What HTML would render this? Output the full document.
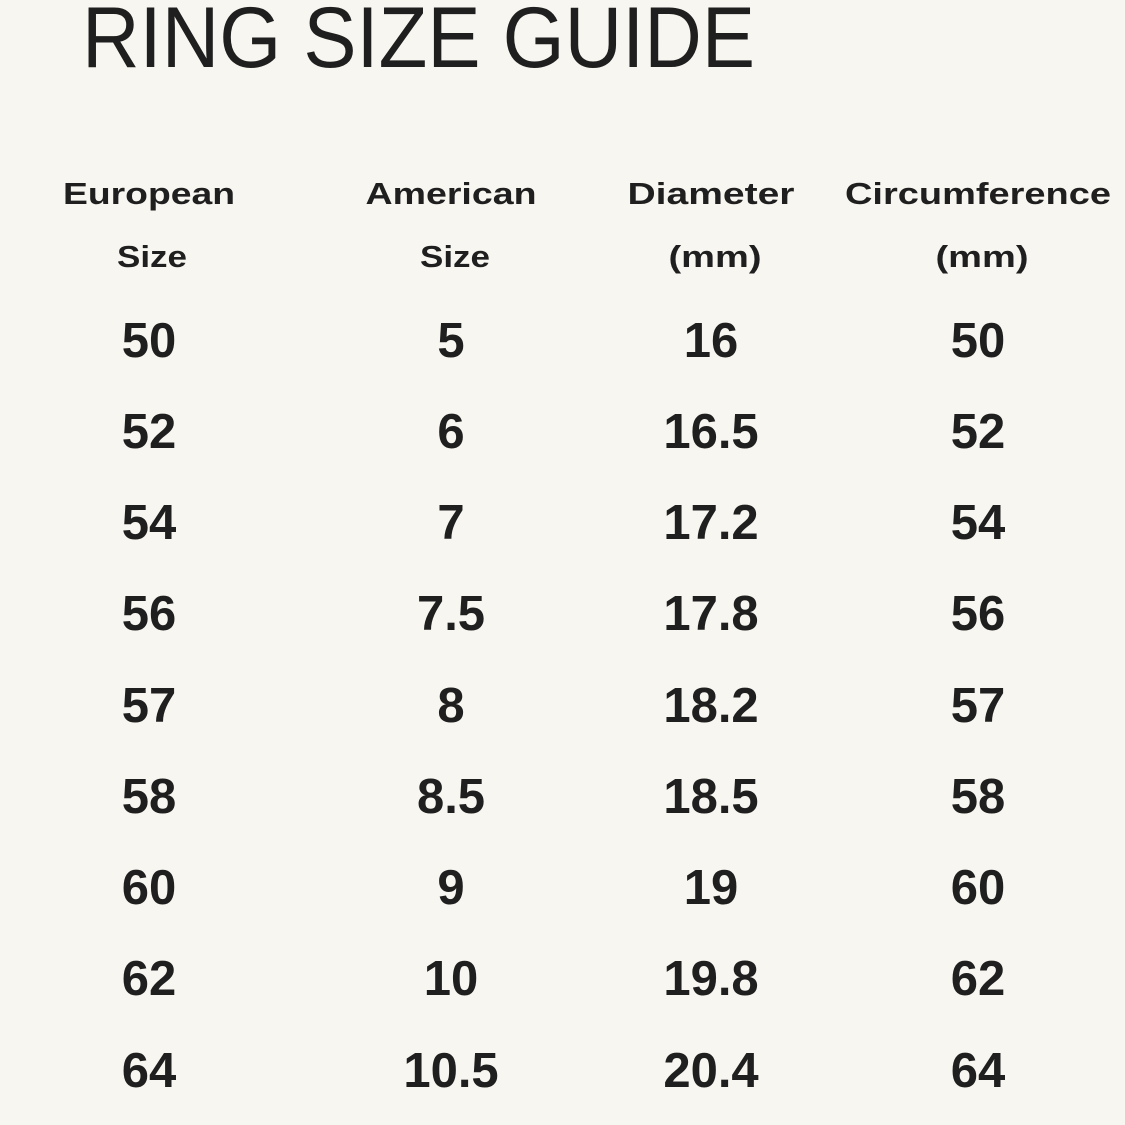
<!DOCTYPE html>
<html><head><meta charset="utf-8"><style>
html,body{margin:0;padding:0;background:#f8f6f0;}
svg{display:block}
text{font-family:"Liberation Sans",sans-serif;fill:#1f1f1f}
.h{font-weight:bold;font-size:31px}
.n{font-weight:bold;font-size:49px}
</style></head><body>
<svg width="1125" height="1125" viewBox="0 0 1125 1125">
<rect width="1125" height="1125" fill="#f8f6f0"/>
<text x="82" y="67" font-size="86" textLength="673" lengthAdjust="spacingAndGlyphs">RING SIZE GUIDE</text>
<g class="h" text-anchor="middle">
<text x="149" y="204" textLength="172" lengthAdjust="spacingAndGlyphs">European</text>
<text x="152" y="267" textLength="70" lengthAdjust="spacingAndGlyphs">Size</text>
<text x="451" y="204" textLength="171" lengthAdjust="spacingAndGlyphs">American</text>
<text x="455" y="267" textLength="70" lengthAdjust="spacingAndGlyphs">Size</text>
<text x="711" y="204" textLength="167" lengthAdjust="spacingAndGlyphs">Diameter</text>
<text x="715" y="267" textLength="93" lengthAdjust="spacingAndGlyphs">(mm)</text>
<text x="978" y="204" textLength="266" lengthAdjust="spacingAndGlyphs">Circumference</text>
<text x="982" y="267" textLength="93" lengthAdjust="spacingAndGlyphs">(mm)</text>
</g>
<g class="n" text-anchor="middle">
<text x="149" y="357">50</text><text x="451" y="357">5</text><text x="711" y="357">16</text><text x="978" y="357">50</text>
<text x="149" y="448">52</text><text x="451" y="448">6</text><text x="711" y="448">16.5</text><text x="978" y="448">52</text>
<text x="149" y="539">54</text><text x="451" y="539">7</text><text x="711" y="539">17.2</text><text x="978" y="539">54</text>
<text x="149" y="630">56</text><text x="451" y="630">7.5</text><text x="711" y="630">17.8</text><text x="978" y="630">56</text>
<text x="149" y="722">57</text><text x="451" y="722">8</text><text x="711" y="722">18.2</text><text x="978" y="722">57</text>
<text x="149" y="813">58</text><text x="451" y="813">8.5</text><text x="711" y="813">18.5</text><text x="978" y="813">58</text>
<text x="149" y="904">60</text><text x="451" y="904">9</text><text x="711" y="904">19</text><text x="978" y="904">60</text>
<text x="149" y="995">62</text><text x="451" y="995">10</text><text x="711" y="995">19.8</text><text x="978" y="995">62</text>
<text x="149" y="1087">64</text><text x="451" y="1087">10.5</text><text x="711" y="1087">20.4</text><text x="978" y="1087">64</text>
</g>
</svg>
</body></html>
